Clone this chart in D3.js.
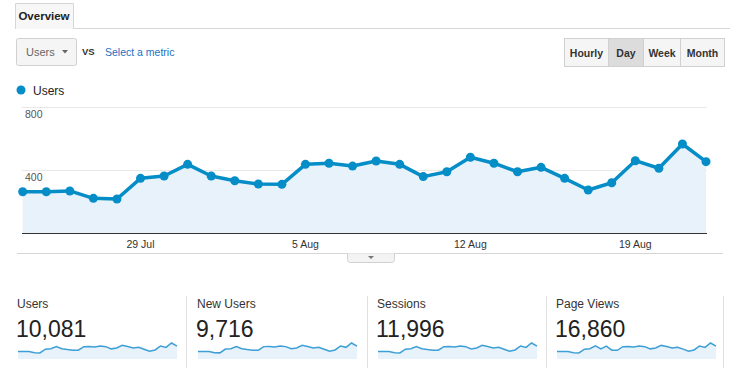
<!DOCTYPE html>
<html>
<head>
<meta charset="utf-8">
<script src="https://cdn.jsdelivr.net/npm/d3@7"></script>
<style>
  body { margin: 0; background: #fff; }
  svg text { font-family: "Liberation Sans", Arial, sans-serif; }
</style>
</head>
<body>
<div id="chart"></div>
<script>
// Daily data, 24 Jul - 22 Aug
const days = d3.range(30).map(i => new Date(2018, 6, 24 + i));
const users = [262, 262, 267, 220, 216, 347, 362, 436, 362, 332, 311, 309, 436, 443, 425,
               457, 436, 358, 389, 481, 443, 389, 417, 347, 273, 319, 459, 411, 565, 453];
const newUsers = [255, 254, 258, 212, 208, 336, 350, 420, 350, 322, 300, 298, 420, 428, 410,
                  440, 420, 346, 375, 462, 425, 374, 400, 333, 262, 307, 441, 396, 543, 436];
const sessions = [310, 311, 316, 261, 256, 412, 430, 518, 430, 394, 369, 367, 518, 526, 505,
                  543, 518, 425, 462, 571, 526, 462, 495, 412, 324, 379, 545, 488, 671, 538];
const pageViews = [440, 438, 446, 368, 360, 580, 605, 780, 600, 760, 520, 516, 728, 740, 710,
                   763, 728, 598, 650, 803, 740, 650, 696, 580, 456, 533, 767, 686, 944, 757];
const yTicks = [400, 800];
const xTickDays = [5, 12, 19, 26];   // indexes of 29 Jul, 5 Aug, 12 Aug, 19 Aug
const granularity = ["Hourly", "Day", "Week", "Month"];
const metrics = [
  { name: "Users", total: "10,081", values: users },
  { name: "New Users", total: "9,716", values: newUsers },
  { name: "Sessions", total: "11,996", values: sessions },
  { name: "Page Views", total: "16,860", values: pageViews }
];

const width = 730, height = 373;
const blue = "#058dc7";

const svg = d3.select("#chart").append("svg")
    .attr("width", width)
    .attr("height", height);

// Tab header
svg.append("line").attr("x1", 73).attr("x2", width).attr("y1", 28.5).attr("y2", 28.5)
    .attr("stroke", "#d6d6d6");
svg.append("path").attr("d", "M15.5,29V3.5H73.5V29")
    .attr("fill", "#f7f7f7").attr("stroke", "#d6d6d6");
svg.append("text").attr("x", 44).attr("y", 20).attr("text-anchor", "middle")
    .attr("font-size", 11.5).attr("font-weight", "bold").attr("fill", "#222").text("Overview");

// Metric dropdown
svg.append("rect").attr("x", 16.5).attr("y", 38.5).attr("width", 60).attr("height", 27)
    .attr("rx", 2).attr("fill", "#f5f5f5").attr("stroke", "#d0d0d0");
svg.append("text").attr("x", 26).attr("y", 56).attr("font-size", 11).attr("fill", "#666").text("Users");
svg.append("path").attr("d", "M62,50h6l-3,3.5z").attr("fill", "#666");
svg.append("text").attr("x", 82).attr("y", 55).attr("font-size", 9.5).attr("font-weight", "bold")
    .attr("fill", "#333").text("VS");
svg.append("text").attr("x", 105).attr("y", 56).attr("font-size", 10.5).attr("fill", "#1c6fbf")
    .text("Select a metric");

// Granularity buttons
const btnEdges = [564, 608, 643, 680, 724];
const btn = svg.append("g").selectAll("g").data(granularity).join("g");
btn.append("rect")
    .attr("x", (d, i) => btnEdges[i] + 0.5).attr("y", 38.5)
    .attr("width", (d, i) => btnEdges[i + 1] - btnEdges[i]).attr("height", 28)
    .attr("fill", d => d === "Day" ? "#dcdcdc" : "#f5f5f5")
    .attr("stroke", "#d0d0d0");
btn.append("text")
    .attr("x", (d, i) => (btnEdges[i] + btnEdges[i + 1]) / 2 + 0.5).attr("y", 56.5)
    .attr("text-anchor", "middle").attr("font-size", 10.5).attr("font-weight", "bold")
    .attr("fill", "#333").text(d => d);

// Legend
svg.append("circle").attr("cx", 21).attr("cy", 90).attr("r", 4.5).attr("fill", blue);
svg.append("text").attr("x", 33).attr("y", 94.5).attr("font-size", 12).attr("fill", "#222").text("Users");

// Main chart
const x = d3.scaleLinear().domain([0, 29]).range([22.7, 706]);
const y = d3.scaleLinear().domain([0, 800]).range([233, 107]);

svg.append("g").selectAll("line").data(yTicks).join("line")
    .attr("x1", 22).attr("x2", 707)
    .attr("y1", d => Math.round(y(d)) + 0.5).attr("y2", d => Math.round(y(d)) + 0.5)
    .attr("stroke", "#e8e8e8");
svg.append("g").selectAll("text").data(yTicks).join("text")
    .attr("x", 25).attr("y", d => y(d) + 11)
    .attr("font-size", 10.5).attr("fill", "#555").text(d => d);

const area = d3.area().x((d, i) => x(i)).y0(y(0)).y1(d => y(d));
const line = d3.line().x((d, i) => x(i)).y(d => y(d));

svg.append("path").datum(users).attr("d", area).attr("fill", "#e7f2fa");
svg.append("line").attr("x1", 22).attr("x2", 707).attr("y1", 233.5).attr("y2", 233.5)
    .attr("stroke", "#333");
svg.append("path").datum(users).attr("d", line)
    .attr("fill", "none").attr("stroke", blue).attr("stroke-width", 3.5)
    .attr("stroke-linejoin", "round");
svg.append("g").selectAll("circle").data(users).join("circle")
    .attr("cx", (d, i) => x(i)).attr("cy", d => y(d)).attr("r", 4.5).attr("fill", blue);

const fmt = d3.timeFormat("%-d %b");
svg.append("g").selectAll("text").data(xTickDays).join("text")
    .attr("x", d => x(d)).attr("y", 248).attr("text-anchor", "middle")
    .attr("font-size", 10.5).attr("fill", "#333").text(d => fmt(days[d]));

// Bottom rule with collapse handle
svg.append("line").attr("x1", 17).attr("x2", 723).attr("y1", 253.5).attr("y2", 253.5)
    .attr("stroke", "#d6d6d6");
svg.append("path").attr("d", "M347.5,253.5V259.5Q347.5,262.5 350.5,262.5H391.5Q394.5,262.5 394.5,259.5V253.5")
    .attr("fill", "#f3f3f3").attr("stroke", "#d0d0d0");
svg.append("path").attr("d", "M368,256h6l-3,3z").attr("fill", "#777");

// Scorecards with sparklines
const panelX = [17, 197, 377, 556];
const sepX = [186, 367, 546, 723];
svg.append("g").selectAll("line").data(sepX).join("line")
    .attr("x1", d => d + 0.5).attr("x2", d => d + 0.5).attr("y1", 296).attr("y2", 368)
    .attr("stroke", "#e0e0e0");

const card = svg.append("g").selectAll("g").data(metrics).join("g")
    .attr("transform", (d, i) => `translate(${panelX[i]},0)`);
card.append("text").attr("x", 0).attr("y", 308)
    .attr("font-family", "Roboto, sans-serif").attr("font-size", 12).attr("fill", "#333")
    .text(d => d.name);
card.append("text").attr("x", -1).attr("y", 337)
    .attr("font-family", "Roboto, sans-serif").attr("font-size", 23).attr("fill", "#222")
    .text(d => d.total);

const sx = d3.scaleLinear().domain([0, 29]).range([1, 160]);
card.each(function(d) {
  const sy = d3.scaleLinear().domain([0, d3.max(d.values)]).range([359, 343]);
  const g = d3.select(this);
  g.append("path").datum(d.values)
      .attr("d", d3.area().x((v, i) => sx(i)).y0(sy(0)).y1(v => sy(v)))
      .attr("fill", "#e7f2fa");
  g.append("path").datum(d.values)
      .attr("d", d3.line().x((v, i) => sx(i)).y(v => sy(v)))
      .attr("fill", "none").attr("stroke", "#3d9fd6").attr("stroke-width", 1.5);
});
</script>
</body>
</html>
